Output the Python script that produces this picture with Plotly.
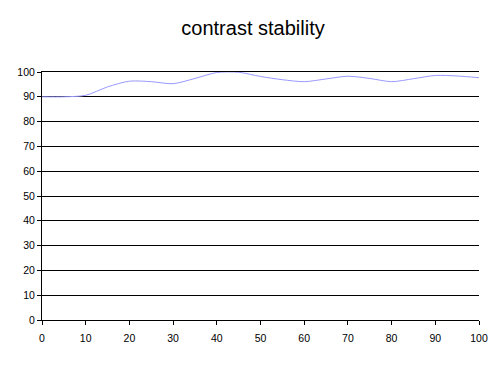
import plotly.graph_objects as go

x_vals = [0, 5, 10, 15, 20, 25, 30, 35, 40, 45, 50, 55, 60, 65, 70, 75, 80, 85, 90, 95, 100]
contrast = [90, 90, 90.6, 94, 96.3, 96.1, 95.3, 97.4, 99.8, 99.9, 98.2, 96.9, 96.1, 97.2, 98.3, 97.4, 96.1, 97.3, 98.6, 98.4, 97.7]
x_ticks = [0, 10, 20, 30, 40, 50, 60, 70, 80, 90, 100]
y_ticks = [0, 10, 20, 30, 40, 50, 60, 70, 80, 90, 100]

fig = go.Figure()
fig.add_trace(go.Scatter(
    x=x_vals, y=contrast, mode="lines",
    line=dict(color="#9999FF", width=1, shape="spline", smoothing=0.8),
    showlegend=False, hoverinfo="skip"))

font = dict(family="Liberation Sans, Arial, sans-serif", size=10.5, color="black")
fig.update_layout(
    width=500, height=379,
    margin=dict(l=42, r=17, t=72, b=59),
    paper_bgcolor="white", plot_bgcolor="white",
    title=dict(text="contrast stability", x=0.506, xanchor="center", y=0.925, yanchor="middle",
               font=dict(family="Liberation Sans, Arial, sans-serif", size=20, color="black")),
    xaxis=dict(range=[0, 100], tickvals=x_ticks, ticks="outside", ticklen=4, tickcolor="black",
               showline=True, linecolor="black", linewidth=1, mirror=True, showgrid=False,
               zeroline=False, tickfont=font, fixedrange=True, ticklabelstandoff=4),
    yaxis=dict(range=[0, 100], tickvals=y_ticks, ticks="outside", ticklen=4, tickcolor="black",
               showline=True, linecolor="black", linewidth=1, showgrid=True, gridcolor="black",
               gridwidth=1, zeroline=False, tickfont=font, fixedrange=True),
)
fig.write_html("out.html")
